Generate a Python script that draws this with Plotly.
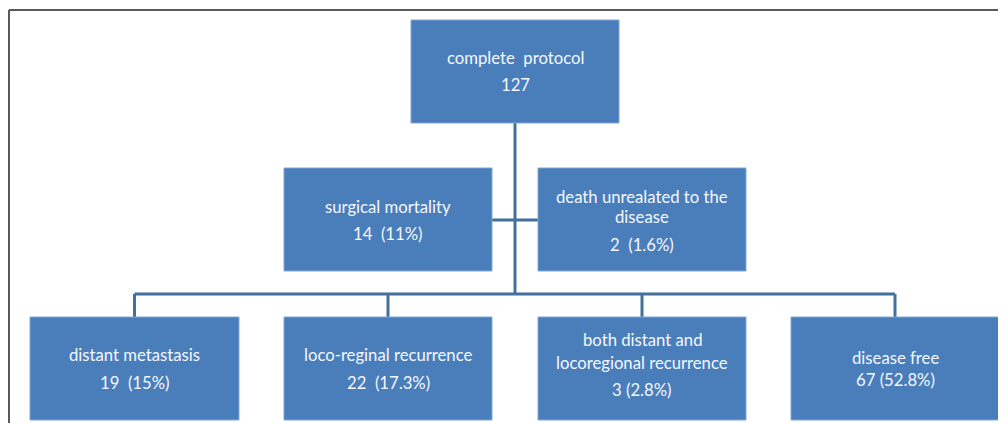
import plotly.graph_objects as go

# ---- data ----
titles = ["complete  protocol", "surgical mortality", "death unrealated to the<br>disease",
          "distant metastasis", "loco-reginal recurrence", "both distant and<br>locoregional recurrence",
          "disease free"]
counts = [127, 14, 2, 19, 22, 3, 67]
pcts = ["", "11%", "1.6%", "15%", "17.3%", "2.8%", "52.8%"]
seps = ["", "  ", "  ", "  ", "  ", " ", " "]

# page has an 8px body margin; figure covers page pixels 8..1006 / 8..423
OFF = 8
W, H = 1006, 423
FILL = "#4A7EBB"
EDGE = "#7FA6D6"
LINE = "#41719C"
FONT = "Lato"
FS = 16.7

# layout of boxes (x0, y0, x1, y1) in page pixels
boxes = [
    (411, 20, 619, 123),
    (284, 168, 492, 271),
    (538, 168, 746, 271),
    (30, 317, 239, 420),
    (284, 317, 492, 420),
    (538, 317, 746, 420),
    (791, 317, 999, 420),
]
text_y = [
    [58, 85],
    [207, 234],
    [197, 217, 245],
    [355, 383],
    [355, 383],
    [340, 363, 390],
    [358, 380],
]

fig = go.Figure()
shapes = []
annotations = []

shapes.append(dict(type="line", x0=9, y0=10, x1=W + 5, y1=10, line=dict(color="#595959", width=2)))
shapes.append(dict(type="line", x0=9, y0=10, x1=9, y1=H + 5, line=dict(color="#595959", width=2)))

trunk_x = 515
bus_y = 294
shapes.append(dict(type="line", x0=trunk_x, y0=123, x1=trunk_x, y1=bus_y, line=dict(color=LINE, width=3)))
shapes.append(dict(type="line", x0=492, y0=220, x1=538, y1=220, line=dict(color=LINE, width=3)))
drops = [(b[0] + b[2]) / 2 for b in boxes[3:]]
shapes.append(dict(type="line", x0=drops[0], y0=bus_y, x1=drops[-1], y1=bus_y, line=dict(color=LINE, width=3)))
for dx in drops:
    shapes.append(dict(type="line", x0=dx, y0=bus_y, x1=dx, y1=317, line=dict(color=LINE, width=3)))

for i, (x0, y0, x1, y1) in enumerate(boxes):
    shapes.append(dict(type="rect", x0=x0, y0=y0, x1=x1, y1=y1, fillcolor=FILL,
                       line=dict(color=EDGE, width=1)))
    lines = titles[i].split("<br>")
    value = str(counts[i]) + (seps[i] + "(" + pcts[i] + ")" if pcts[i] else "")
    lines = lines + [value]
    cx = (x0 + x1) / 2
    for t, yy in zip(lines, text_y[i]):
        annotations.append(dict(x=cx, y=yy, text=t, showarrow=False, xref="x", yref="y",
                                xanchor="center", yanchor="middle",
                                font=dict(family=FONT, size=FS, color="#F4F7FB")))

fig.update_layout(
    width=W - OFF, height=H - OFF, margin=dict(l=0, r=0, t=0, b=0),
    paper_bgcolor="white", plot_bgcolor="white",
    xaxis=dict(range=[OFF, W], visible=False, fixedrange=True),
    yaxis=dict(range=[H, OFF], visible=False, fixedrange=True),
    shapes=shapes, annotations=annotations, showlegend=False,
)
fig.write_html("out.html")
